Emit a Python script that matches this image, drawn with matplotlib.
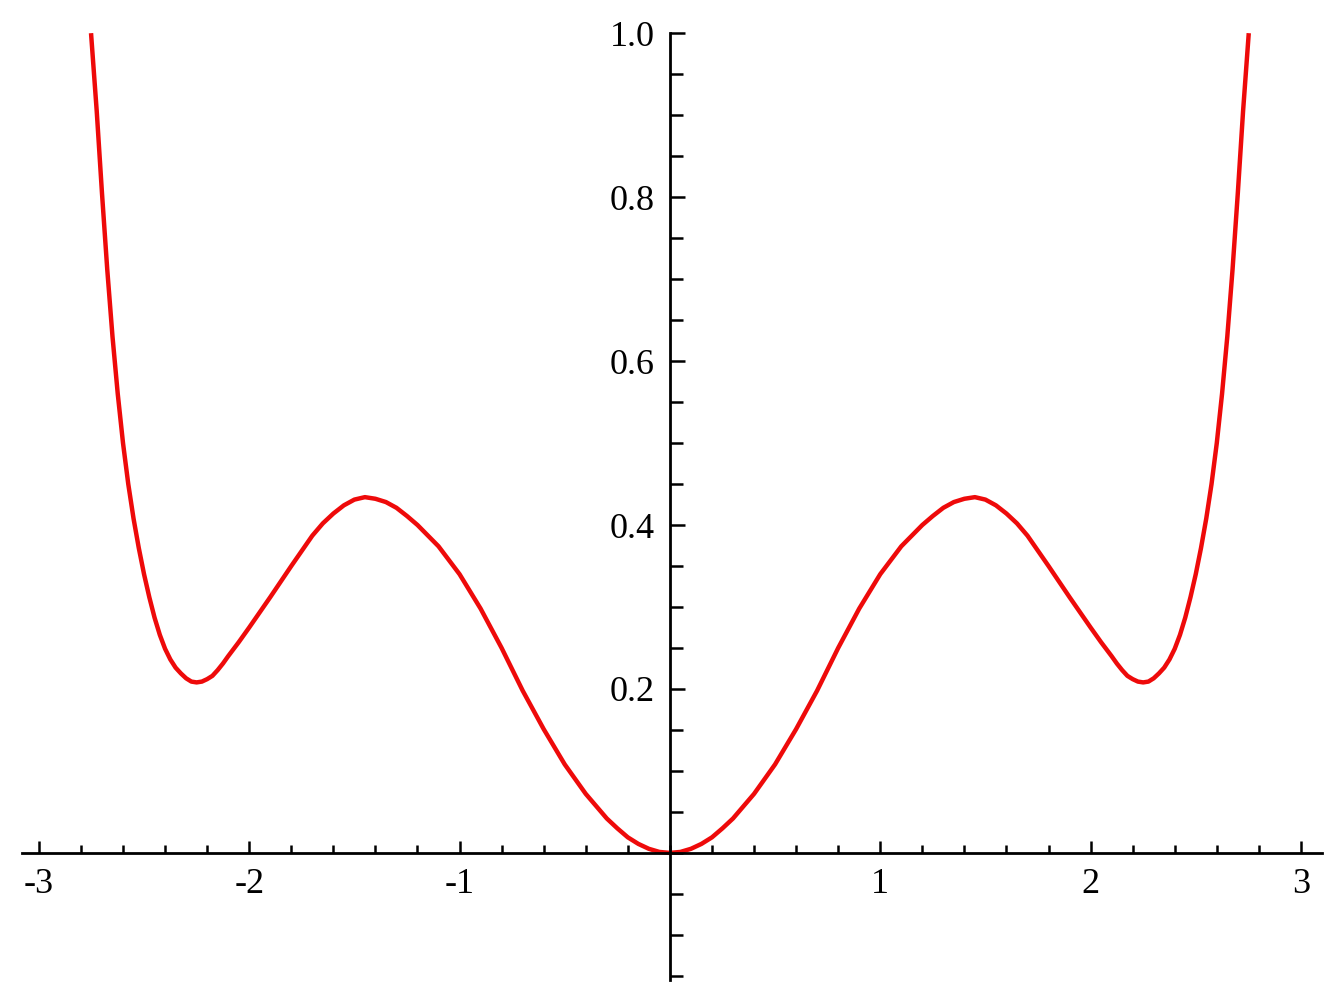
import matplotlib
matplotlib.use("Agg")
import matplotlib.pyplot as plt
from matplotlib.ticker import MultipleLocator, FixedLocator

# curve values (left half, then right half)
x_left = [-2.752, -2.725, -2.7, -2.675, -2.65, -2.625, -2.6, -2.575, -2.55,
          -2.525, -2.5, -2.475, -2.45, -2.425, -2.4, -2.375, -2.35, -2.325, -2.3,
          -2.275, -2.25, -2.225, -2.2, -2.175, -2.15, -2.125, -2.1, -2.05, -2.0,
          -1.9, -1.8, -1.7, -1.65, -1.6, -1.55, -1.5, -1.45, -1.4, -1.35, -1.3,
          -1.25, -1.2, -1.1, -1.0, -0.9, -0.8, -0.7, -0.6, -0.5, -0.4, -0.3,
          -0.25, -0.2, -0.15, -0.1, -0.05]
y_left = [1.0, 0.905, 0.805, 0.712, 0.630, 0.560, 0.500, 0.450, 0.408,
          0.372, 0.340, 0.312, 0.287, 0.266, 0.249, 0.236, 0.226, 0.219, 0.213,
          0.209, 0.208, 0.209, 0.212, 0.216, 0.223, 0.231, 0.240, 0.257, 0.275,
          0.312, 0.350, 0.387, 0.402, 0.414, 0.424, 0.431, 0.434, 0.432, 0.428, 0.421,
          0.411, 0.400, 0.374, 0.340, 0.298, 0.250, 0.198, 0.151, 0.108, 0.072, 0.042,
          0.030, 0.019, 0.011, 0.005, 0.0012]

x_right = [0.0, 0.05, 0.1, 0.15, 0.2, 0.25, 0.3, 0.4, 0.5, 0.6, 0.7, 0.8, 0.9,
           1.0, 1.1, 1.2, 1.25, 1.3, 1.35, 1.4, 1.45, 1.5, 1.55, 1.6, 1.65, 1.7,
           1.8, 1.9, 2.0, 2.05, 2.1, 2.125, 2.15, 2.175, 2.2, 2.225, 2.25, 2.275,
           2.3, 2.325, 2.35, 2.375, 2.4, 2.425, 2.45, 2.475, 2.5, 2.525, 2.55,
           2.575, 2.6, 2.625, 2.65, 2.675, 2.7, 2.725, 2.752]
y_right = [0.0, 0.0012, 0.005, 0.011, 0.019, 0.030, 0.042, 0.072, 0.108, 0.151, 0.198, 0.250, 0.298,
           0.340, 0.374, 0.400, 0.411, 0.421, 0.428, 0.432, 0.434, 0.431, 0.424, 0.414, 0.402, 0.387,
           0.350, 0.312, 0.275, 0.257, 0.240, 0.231, 0.223, 0.216, 0.212, 0.209, 0.208, 0.209,
           0.213, 0.219, 0.226, 0.236, 0.249, 0.266, 0.287, 0.312, 0.340, 0.372, 0.408,
           0.450, 0.500, 0.560, 0.630, 0.712, 0.805, 0.905, 1.0]

x_ticks = [-3, -2, -1, 1, 2, 3]
x_labels = ["-3", "-2", "-1", "1", "2", "3"]
y_ticks = [0.2, 0.4, 0.6, 0.8, 1.0]
y_labels = ["0.2", "0.4", "0.6", "0.8", "1.0"]

plt.rcParams['font.family'] = ['Liberation Serif', 'DejaVu Serif']

fig = plt.figure(figsize=(13.44, 10.05), dpi=100)
ax = fig.add_axes([0.0164, 0.0249, 0.9672, 0.9421])

ax.plot(x_left + x_right, y_left + y_right, color='#ee0a0a', lw=3.2,
        solid_capstyle='butt', solid_joinstyle='round')

ax.set_xlim(-3.08, 3.10)
ax.set_ylim(-0.155, 1.0)

ax.spines['left'].set_position(('data', 0))
ax.spines['bottom'].set_position(('data', 0))
ax.spines['top'].set_visible(False)
ax.spines['right'].set_visible(False)
for s in ('left', 'bottom'):
    ax.spines[s].set_linewidth(2.0)
    ax.spines[s].set_color('black')

ax.xaxis.set_major_locator(FixedLocator(x_ticks))
ax.set_xticklabels(x_labels)
ax.xaxis.set_minor_locator(MultipleLocator(0.2))
ax.yaxis.set_major_locator(FixedLocator(y_ticks))
ax.set_yticklabels(y_labels)
ax.yaxis.set_minor_locator(MultipleLocator(0.05))

ax.tick_params(axis='x', which='major', direction='in', length=9, width=1.8,
               labelsize=26, pad=11)
ax.tick_params(axis='x', which='minor', direction='in', length=6, width=1.8)
ax.tick_params(axis='y', which='major', direction='in', length=11, width=1.8,
               labelsize=26, pad=11)
ax.tick_params(axis='y', which='minor', direction='in', length=9, width=1.8)
ax.patch.set_visible(False)

fig.savefig("out.png", dpi=100)
